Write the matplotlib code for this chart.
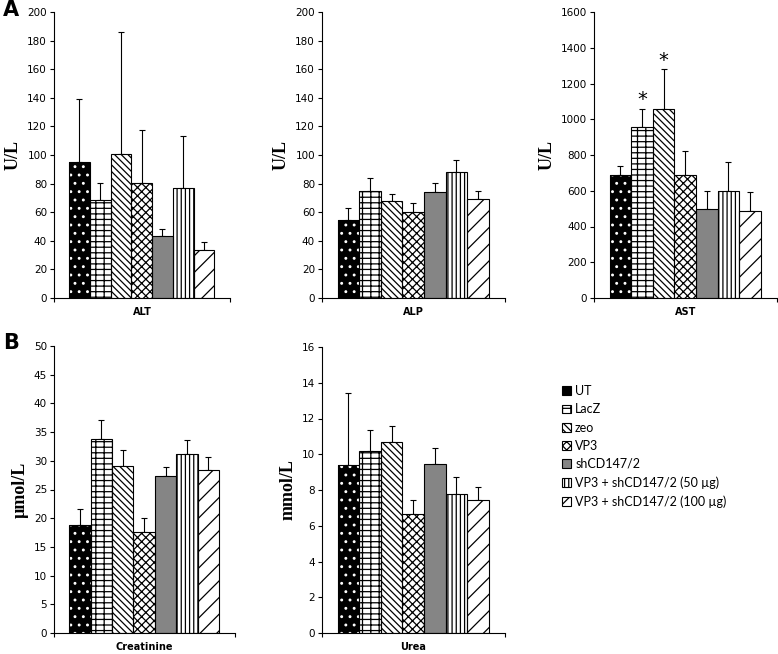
import matplotlib
matplotlib.use("Agg")
import matplotlib.pyplot as plt
from matplotlib.patches import Patch

groups = ["UT", "LacZ", "zeo", "VP3", "shCD147/2",
          "VP3 + shCD147/2 (50 µg)", "VP3 + shCD147/2 (100 µg)"]

alt = [95.3, 68.5, 100.9, 80.6, 43.7, 76.9, 33.6]
alt_top = [139.3, 80.6, 186.0, 117.5, 48.6, 113.0, 39.3]
alp = [54.7, 75.0, 68.0, 60.3, 73.8, 88.3, 69.2]
alp_top = [62.9, 83.9, 72.4, 66.1, 80.1, 96.3, 75.0]
ast = [688, 959, 1060, 688, 497, 598, 488]
ast_top = [740, 1060, 1279, 824, 598, 763, 595]
creat = [18.9, 33.8, 29.1, 17.6, 27.3, 31.1, 28.4]
creat_top = [21.6, 37.1, 31.9, 20.1, 28.9, 33.6, 30.7]
urea = [9.41, 10.2, 10.7, 6.68, 9.47, 7.78, 7.44]
urea_top = [13.45, 11.35, 11.6, 7.46, 10.36, 8.74, 8.15]

# facecolor, hatch colour, hatch
styles = [("black", "white", ".."),
          ("white", "black", "---||"),
          ("white", "black", "\\\\\\\\\\"),
          ("white", "black", "xxxx"),
          ("#858585", "#858585", None),
          ("white", "black", "||||"),
          ("white", "black", "//")]

plt.rcParams["font.family"] = "DejaVu Sans"
plt.rcParams["hatch.linewidth"] = 0.9

W, H = 778, 654
fig = plt.figure(figsize=(W / 100, H / 100), dpi=100)


def panel(rect, vals, tops, ymax, ystep, ylabel, xlabel):
    ax = fig.add_axes(rect)
    x = list(range(len(vals)))
    for i in x:
        fc, hc, h = styles[i]
        ax.bar(i, vals[i], width=1.0, color=fc, edgecolor=hc, hatch=h,
               linewidth=0, zorder=2)
    ax.bar(x, vals, width=1.0, fill=False, edgecolor="black",
           linewidth=0.8, zorder=3)
    lo = [0] * len(vals)
    hi = [t - v for t, v in zip(tops, vals)]
    ax.errorbar(x, vals, yerr=[lo, hi], fmt="none", ecolor="black",
                elinewidth=0.8, capsize=2.5, capthick=0.8, zorder=1)
    ax.set_xlim(-1.22, 7.25)
    ax.set_ylim(0, ymax)
    ax.set_yticks(range(0, ymax + 1, ystep))
    ax.set_xticks([-1.22, 7.25])
    ax.set_xticklabels(["", ""])
    ax.tick_params(axis="y", labelsize=7.5, length=3, width=0.8, pad=2)
    ax.tick_params(axis="x", length=3, width=0.8)
    for s in ["top", "right"]:
        ax.spines[s].set_visible(False)
    for s in ["left", "bottom"]:
        ax.spines[s].set_linewidth(0.8)
    ax.set_xlabel(xlabel, fontsize=7, fontweight="bold", labelpad=0)
    if ylabel:
        ax.set_ylabel(ylabel, fontsize=13, fontweight="bold",
                      family="Liberation Serif", labelpad=4)
    return ax


def rect(l, r, top, bot):
    return [l / W, 1 - bot / H, (r - l) / W, (bot - top) / H]


panel(rect(54, 230, 12, 298), alt, alt_top, 200, 20, "U/L", "ALT")
panel(rect(322, 505, 12, 298), alp, alp_top, 200, 20, "U/L", "ALP")
ax3 = panel(rect(594, 777, 12, 298), ast, ast_top, 1600, 200, "U/L", "AST")
ax3.text(1, 1110, "*", ha="center", va="center", fontsize=14)
ax3.text(2, 1330, "*", ha="center", va="center", fontsize=14)
panel(rect(54, 235, 346, 633), creat, creat_top, 50, 5, "µmol/L", "Creatinine")
panel(rect(322, 505, 347, 633), urea, urea_top, 16, 2, "mmol/L", "Urea")

fig.text(3 / W, 1 - 10 / H, "A", fontsize=15, fontweight="bold", va="center")
fig.text(3 / W, 1 - 343 / H, "B", fontsize=15, fontweight="bold", va="center")

handles = [Patch(facecolor=fc, edgecolor="black", hatch=h, linewidth=0.8)
           for fc, hc, h in styles]
fig.legend(handles, groups, loc="upper left",
           bbox_to_anchor=(557 / W, 1 - 380 / H), frameon=False,
           handlelength=0.7, handleheight=0.7, handletextpad=0.35,
           labelspacing=0.5, borderaxespad=0,
           prop={"family": "Lato", "size": 9})

fig.savefig("out.png", dpi=100)
